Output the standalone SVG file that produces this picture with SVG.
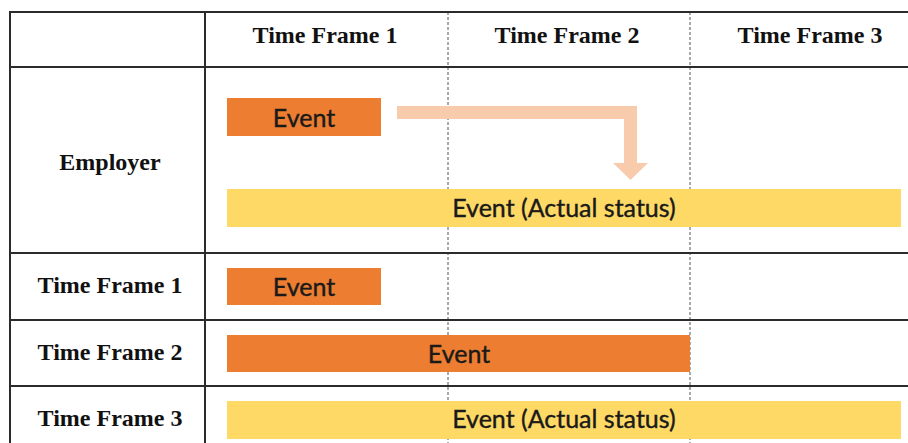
<svg xmlns="http://www.w3.org/2000/svg" width="908" height="443" viewBox="0 0 908 443">
<style>
.grid{stroke:#2b2b2b;stroke-width:2;fill:none}
.dash{stroke:#555;stroke-width:1;stroke-dasharray:3,2;fill:none}
.hdr{font-family:"Liberation Serif","Times New Roman",serif;font-weight:bold;font-size:24px;fill:#111;text-anchor:middle}
.ev{font-family:Lato,"Liberation Sans",sans-serif;font-size:25px;fill:#1a1a1a;stroke:#1a1a1a;stroke-width:0.4;text-anchor:middle}
.orange{fill:#ED7D31}
.yellow{fill:#FFD966}
</style>
<rect x="0" y="0" width="908" height="443" fill="#fff"/>
<g id="table">
<line class="dash" x1="448" y1="12" x2="448" y2="443"/>
<line class="dash" x1="690" y1="12" x2="690" y2="443"/>
<line class="grid" x1="10" y1="12" x2="908" y2="12"/>
<line class="grid" x1="10" y1="67" x2="908" y2="67"/>
<line class="grid" x1="10" y1="253" x2="908" y2="253"/>
<line class="grid" x1="10" y1="320" x2="908" y2="320"/>
<line class="grid" x1="10" y1="386" x2="908" y2="386"/>
<line class="grid" x1="10" y1="11" x2="10" y2="443"/>
<line class="grid" x1="205" y1="12" x2="205" y2="443"/>
</g>
<g id="headers">
<text class="hdr" x="325" y="43">Time Frame 1</text>
<text class="hdr" x="567" y="43">Time Frame 2</text>
<text class="hdr" x="810" y="43">Time Frame 3</text>
</g>
<g id="row-labels">
<text class="hdr" x="110" y="170">Employer</text>
<text class="hdr" x="110" y="293">Time Frame 1</text>
<text class="hdr" x="110" y="360">Time Frame 2</text>
<text class="hdr" x="110" y="426">Time Frame 3</text>
</g>
<g id="employer-event">
<rect class="orange" x="227" y="98" width="154" height="38"/>
<text class="ev" x="304" y="127">Event</text>
</g>
<g id="employer-actual">
<rect class="yellow" x="227" y="189" width="674" height="38"/>
<text class="ev" x="564" y="217">Event (Actual status)</text>
</g>
<g id="tf1-event">
<rect class="orange" x="227" y="268" width="154" height="37"/>
<text class="ev" x="304" y="296">Event</text>
</g>
<g id="tf2-event">
<rect class="orange" x="227" y="335" width="463" height="37"/>
<text class="ev" x="459" y="363">Event</text>
</g>
<g id="tf3-actual">
<rect class="yellow" x="227" y="401" width="674" height="38"/>
<text class="ev" x="564" y="428">Event (Actual status)</text>
</g>
<g id="connectors">
<path d="M397 106 H637 V163 H648 L630.5 180 L613 163 H624 V119 H397 Z" fill="#F8CBAD"/>
</g>
</svg>
